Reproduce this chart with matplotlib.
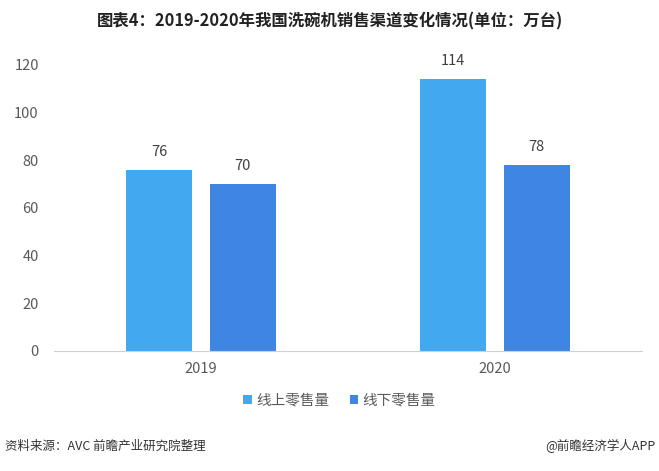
import matplotlib
matplotlib.use("Agg")
import matplotlib.pyplot as plt
import numpy as np

plt.rcParams["font.family"] = ["Noto Sans CJK SC", "DejaVu Sans"]

years = ["2019", "2020"]
online = [76, 114]
offline = [70, 78]
series_names = ["线上零售量", "线下零售量"]
colors = ["#42A9F1", "#3F86E2"]

fig = plt.figure(figsize=(6.59, 4.71), dpi=100)
ax = fig.add_axes([0.082, 0.255, 0.892, 0.607])

x = np.arange(len(years))
w = 0.224
off = 0.142
for vals, dx, c, name in [(online, -off, colors[0], series_names[0]),
                          (offline, off, colors[1], series_names[1])]:
    bars = ax.bar(x + dx, vals, w, color=c, label=name)
    for b, v in zip(bars, vals):
        ax.annotate(f"{v}", (b.get_x() + b.get_width() / 2, v),
                    xytext=(0, 8), textcoords="offset points",
                    ha="center", va="bottom", fontsize=10.5, color="#404040")

ax.set_xlim(-0.5, 1.5)
ax.set_ylim(0, 120)
ax.set_yticks(range(0, 121, 20))
ax.set_xticks(x)
ax.set_xticklabels(years)
ax.tick_params(length=0, labelsize=10.5, colors="#595959")
ax.tick_params(axis="x", pad=8)
ax.tick_params(axis="y", pad=11)
for s in ["top", "right", "left"]:
    ax.spines[s].set_visible(False)
ax.spines["bottom"].set_color("#D0D0D0")

fig.text(0.5, 0.955, "图表4：2019-2020年我国洗碗机销售渠道变化情况(单位：万台)",
         ha="center", va="center", fontsize=11.8, fontweight="bold", color="#222222")

fig.legend(loc="center", bbox_to_anchor=(0.515, 0.150), ncol=2, frameon=False,
           fontsize=10.5, handlelength=0.6, handleheight=0.6, handletextpad=0.3,
           columnspacing=1.4, labelcolor="#595959")

fig.text(0.008, 0.052, "资料来源：AVC 前瞻产业研究院整理", ha="left", va="center",
         fontsize=9, color="#333333")
fig.text(0.995, 0.052, "@前瞻经济学人APP", ha="right", va="center",
         fontsize=9, color="#333333")

fig.savefig("out.png", dpi=100)
